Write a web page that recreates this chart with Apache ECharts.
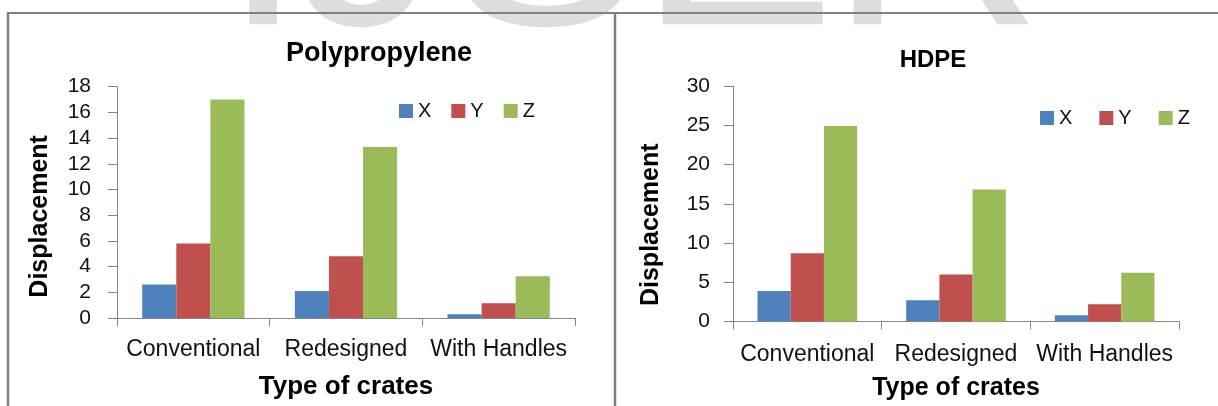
<!DOCTYPE html>
<html>
<head>
<meta charset="utf-8">
<script src="https://cdn.jsdelivr.net/npm/echarts@6/dist/echarts.min.js"></script>
<style>
  html, body { margin: 0; padding: 0; background: #ffffff; }
  #chart { width: 1218px; height: 406px; }
</style>
</head>
<body>
<div id="chart"></div>
<script>
// Crate types on the horizontal axis
const categories = ['Conventional', 'Redesigned', 'With Handles'];
const seriesNames = ['X', 'Y', 'Z'];

// Polypropylene crates: displacement per direction
const ppX = [2.6, 2.1, 0.3];
const ppY = [5.8, 4.8, 1.15];
const ppZ = [17.0, 13.3, 3.25];

// HDPE crates: displacement per direction
const hdpeX = [3.9, 2.7, 0.8];
const hdpeY = [8.7, 6.0, 2.2];
const hdpeZ = [24.9, 16.8, 6.2];

const colors = ['#4F81BD', '#C0504D', '#9BBB59'];
const FONT = '"Liberation Sans", Arial, sans-serif';
const axisGray = '#868686';
const textColor = '#111111';

function valueAxis(gridIndex, max, interval, labelMargin, nameGap, shiftDown, labelSize) {
  return {
    type: 'value', gridIndex: gridIndex, min: 0, max: max, interval: interval,
    name: 'Displacement', nameLocation: 'middle', nameGap: nameGap,
    nameTextStyle: { fontFamily: FONT, fontSize: 25, fontWeight: 'bold', color: '#000',
                     padding: [0, shiftDown * 2, 0, 0] },
    axisLine: { show: true, lineStyle: { color: axisGray, width: 1 } },
    axisTick: { show: true, length: 9, lineStyle: { color: axisGray } },
    axisLabel: { margin: labelMargin, fontFamily: FONT, fontSize: labelSize, color: textColor },
    splitLine: { show: false }
  };
}

function categoryAxis(gridIndex, labelMargin, nameGap, nameSize) {
  return {
    type: 'category', gridIndex: gridIndex, data: categories,
    name: 'Type of crates', nameLocation: 'middle', nameGap: nameGap,
    nameTextStyle: { fontFamily: FONT, fontSize: nameSize, fontWeight: 'bold', color: '#000' },
    axisLine: { show: true, lineStyle: { color: axisGray, width: 1 } },
    axisTick: { show: true, length: 8, alignWithLabel: false, lineStyle: { color: axisGray } },
    axisLabel: { margin: labelMargin, fontFamily: FONT, fontSize: 23, color: textColor, interval: 0 },
    splitLine: { show: false }
  };
}

function barSeries(name, data, idx, axisIndex) {
  return {
    name: name, type: 'bar', data: data,
    xAxisIndex: axisIndex, yAxisIndex: axisIndex,
    barGap: '0%', barCategoryGap: '33%',
    itemStyle: { color: colors[idx] },
    emphasis: { disabled: true }
  };
}

// Faint "IJSER" lettering along the top edge; each letter is placed on its own
const watermarkLetters = [
  { ch: 'I', x: 263 }, { ch: 'J', x: 369 }, { ch: 'S', x: 545 },
  { ch: 'E', x: 737 }, { ch: 'R', x: 936 }
];
const watermark = watermarkLetters.map(function (w) {
  return {
    type: 'text', x: w.x, y: -57, z: 0, silent: true,
    style: { text: w.ch, fill: '#dddddd', fontFamily: FONT, fontSize: 295,
             textAlign: 'center', textVerticalAlign: 'middle' }
  };
});

// Panel frames
const frameColor = '#808080';
const frames = [
  { type: 'line', z: 10, shape: { x1: 7, y1: 13, x2: 1218, y2: 13 }, style: { stroke: frameColor, lineWidth: 2 } },
  { type: 'line', z: 10, shape: { x1: 8, y1: 12, x2: 8, y2: 406 }, style: { stroke: frameColor, lineWidth: 2.5 } },
  { type: 'line', z: 10, shape: { x1: 615, y1: 12, x2: 615, y2: 406 }, style: { stroke: frameColor, lineWidth: 2.5 } }
];

const option = {
  backgroundColor: '#ffffff',
  animation: false,
  title: [
    { text: 'Polypropylene', left: 379, top: 40, textAlign: 'center', padding: 0,
      textStyle: { fontFamily: FONT, fontSize: 27, fontWeight: 'bold', color: '#000' } },
    { text: 'HDPE', left: 933, top: 48, textAlign: 'center', padding: 0,
      textStyle: { fontFamily: FONT, fontSize: 24, fontWeight: 'bold', color: '#000' } }
  ],
  legend: [
    { data: seriesNames, left: 399, top: 101, padding: 0, itemWidth: 14, itemHeight: 14, itemGap: 20,
      icon: 'rect', selectedMode: false,
      textStyle: { fontFamily: FONT, fontSize: 20, color: textColor } },
    { data: seriesNames, left: 1040, top: 108, padding: 0, itemWidth: 14, itemHeight: 14, itemGap: 27,
      icon: 'rect', selectedMode: false,
      textStyle: { fontFamily: FONT, fontSize: 20, color: textColor } }
  ],
  grid: [
    { left: 117, top: 86.7, width: 458, height: 231.3, containLabel: false },
    { left: 733, top: 86, width: 446, height: 236.3, containLabel: false }
  ],
  xAxis: [
    categoryAxis(0, 20.5, 55.5, 26),
    categoryAxis(1, 21.5, 54.5, 25)
  ],
  yAxis: [
    valueAxis(0, 18, 2, 26, 64, 14, 21),
    valueAxis(1, 30, 5, 23, 69.5, 21, 21)
  ],
  series: [
    barSeries(seriesNames[0], ppX, 0, 0),
    barSeries(seriesNames[1], ppY, 1, 0),
    barSeries(seriesNames[2], ppZ, 2, 0),
    barSeries(seriesNames[0], hdpeX, 0, 1),
    barSeries(seriesNames[1], hdpeY, 1, 1),
    barSeries(seriesNames[2], hdpeZ, 2, 1)
  ],
  graphic: { elements: watermark.concat(frames) }
};

const chart = echarts.init(document.getElementById('chart'), null, { renderer: 'canvas' });
chart.setOption(option);
</script>
</body>
</html>
